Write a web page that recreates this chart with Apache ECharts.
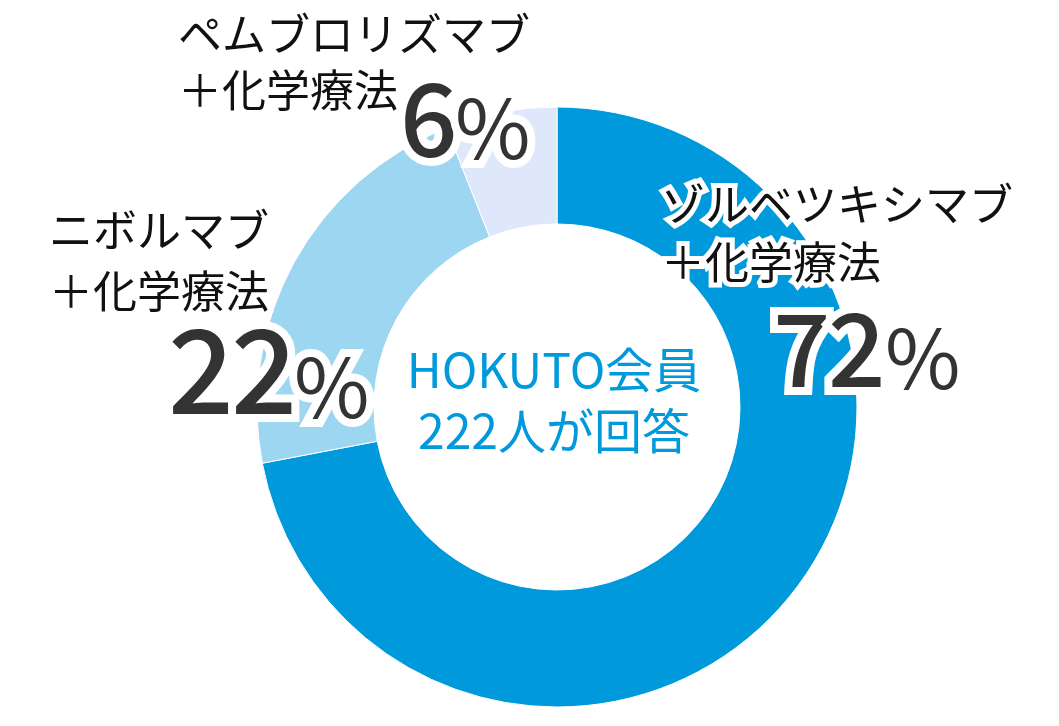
<!DOCTYPE html>
<html>
<head>
<meta charset="utf-8">
<script src="https://cdn.jsdelivr.net/npm/echarts@6/dist/echarts.min.js"></script>
<style>
    html,body{margin:0;padding:0;background:#fff;}
    #chart{width:1059px;height:726px;}
</style>
</head>
<body>
<div id="chart"></div>
<script>
var treatments = ['ゾルベツキシマブ\n＋化学療法', 'ニボルマブ\n＋化学療法', 'ペムブロリズマブ\n＋化学療法'];
var shares = [72, 22, 6];
var centerLines = ['HOKUTO会員', '222人が回答'];

var colors = ['#009ADC', '#9DD6F0', '#DFE8FA'];
var FONT = '"Noto Sans CJK JP", "Noto Sans", sans-serif';

// where each label block sits (name block / value block), per slice
var labelBox = [
    {nx: 661, ny: 175, nlh: 58, vx: 773, vy: 298, vsize: 101, gap: 2},
    {nx: 49, ny: 200, nlh: 61, vx: 168, vy: 312, vsize: 116, gap: 0},
    {nx: 178, ny: 6, nlh: 56, vx: 400, vy: 68, vsize: 101, gap: 0}
];

function valueText(v, i) {
    var s = String(v).split('').map(function(c){ return '{d' + i + '|' + c + '}'; }).join('');
    return s + '{p' + i + '|%}';
}

var graphics = [];
treatments.forEach(function(name, i){
    var b = labelBox[i];
    graphics.push({
        type: 'text', x: b.nx, y: b.ny, z: 100,
        style: {
            text: name, font: '44px ' + FONT, lineHeight: b.nlh,
            fill: '#111', stroke: '#fff', lineWidth: 10,
            align: 'left', verticalAlign: 'top'
        }
    });
    var rich = {};
    rich['d' + i] = {
        font: '500 ' + b.vsize + 'px ' + FONT, lineHeight: b.vsize, verticalAlign: 'bottom',
        width: Math.round(b.vsize * 0.54), fill: '#333', stroke: '#fff', lineWidth: 16
    };
    rich['p' + i] = {
        font: '82px ' + FONT, lineHeight: 82, verticalAlign: 'bottom',
        fill: '#333', stroke: '#fff', lineWidth: 16, padding: [0, 0, 0, b.gap]
    };
    graphics.push({
        type: 'text', x: b.vx, y: b.vy, z: 101,
        style: {text: valueText(shares[i], i), rich: rich, align: 'left', verticalAlign: 'top'}
    });
});

graphics.push({
    type: 'text', x: 554, y: 400, z: 100,
    style: {
        text: centerLines.join('\n'), font: '48px ' + FONT, lineHeight: 61,
        fill: '#009ADC', align: 'center', verticalAlign: 'middle'
    }
});

var myChart = echarts.init(document.getElementById('chart'));
var option = {
    animation: false,
    series: [{
        type: 'pie',
        center: [557, 407],
        radius: [183, 300],
        startAngle: 90,
        clockwise: true,
        label: {show: false},
        labelLine: {show: false},
        emphasis: {disabled: true},
        itemStyle: {borderColor: '#fff', borderWidth: 1},
        data: shares.map(function(v, i){
            return {name: treatments[i], value: v, itemStyle: {color: colors[i]}};
        })
    }],
    graphic: graphics
};
myChart.setOption(option);
</script>
</body>
</html>
